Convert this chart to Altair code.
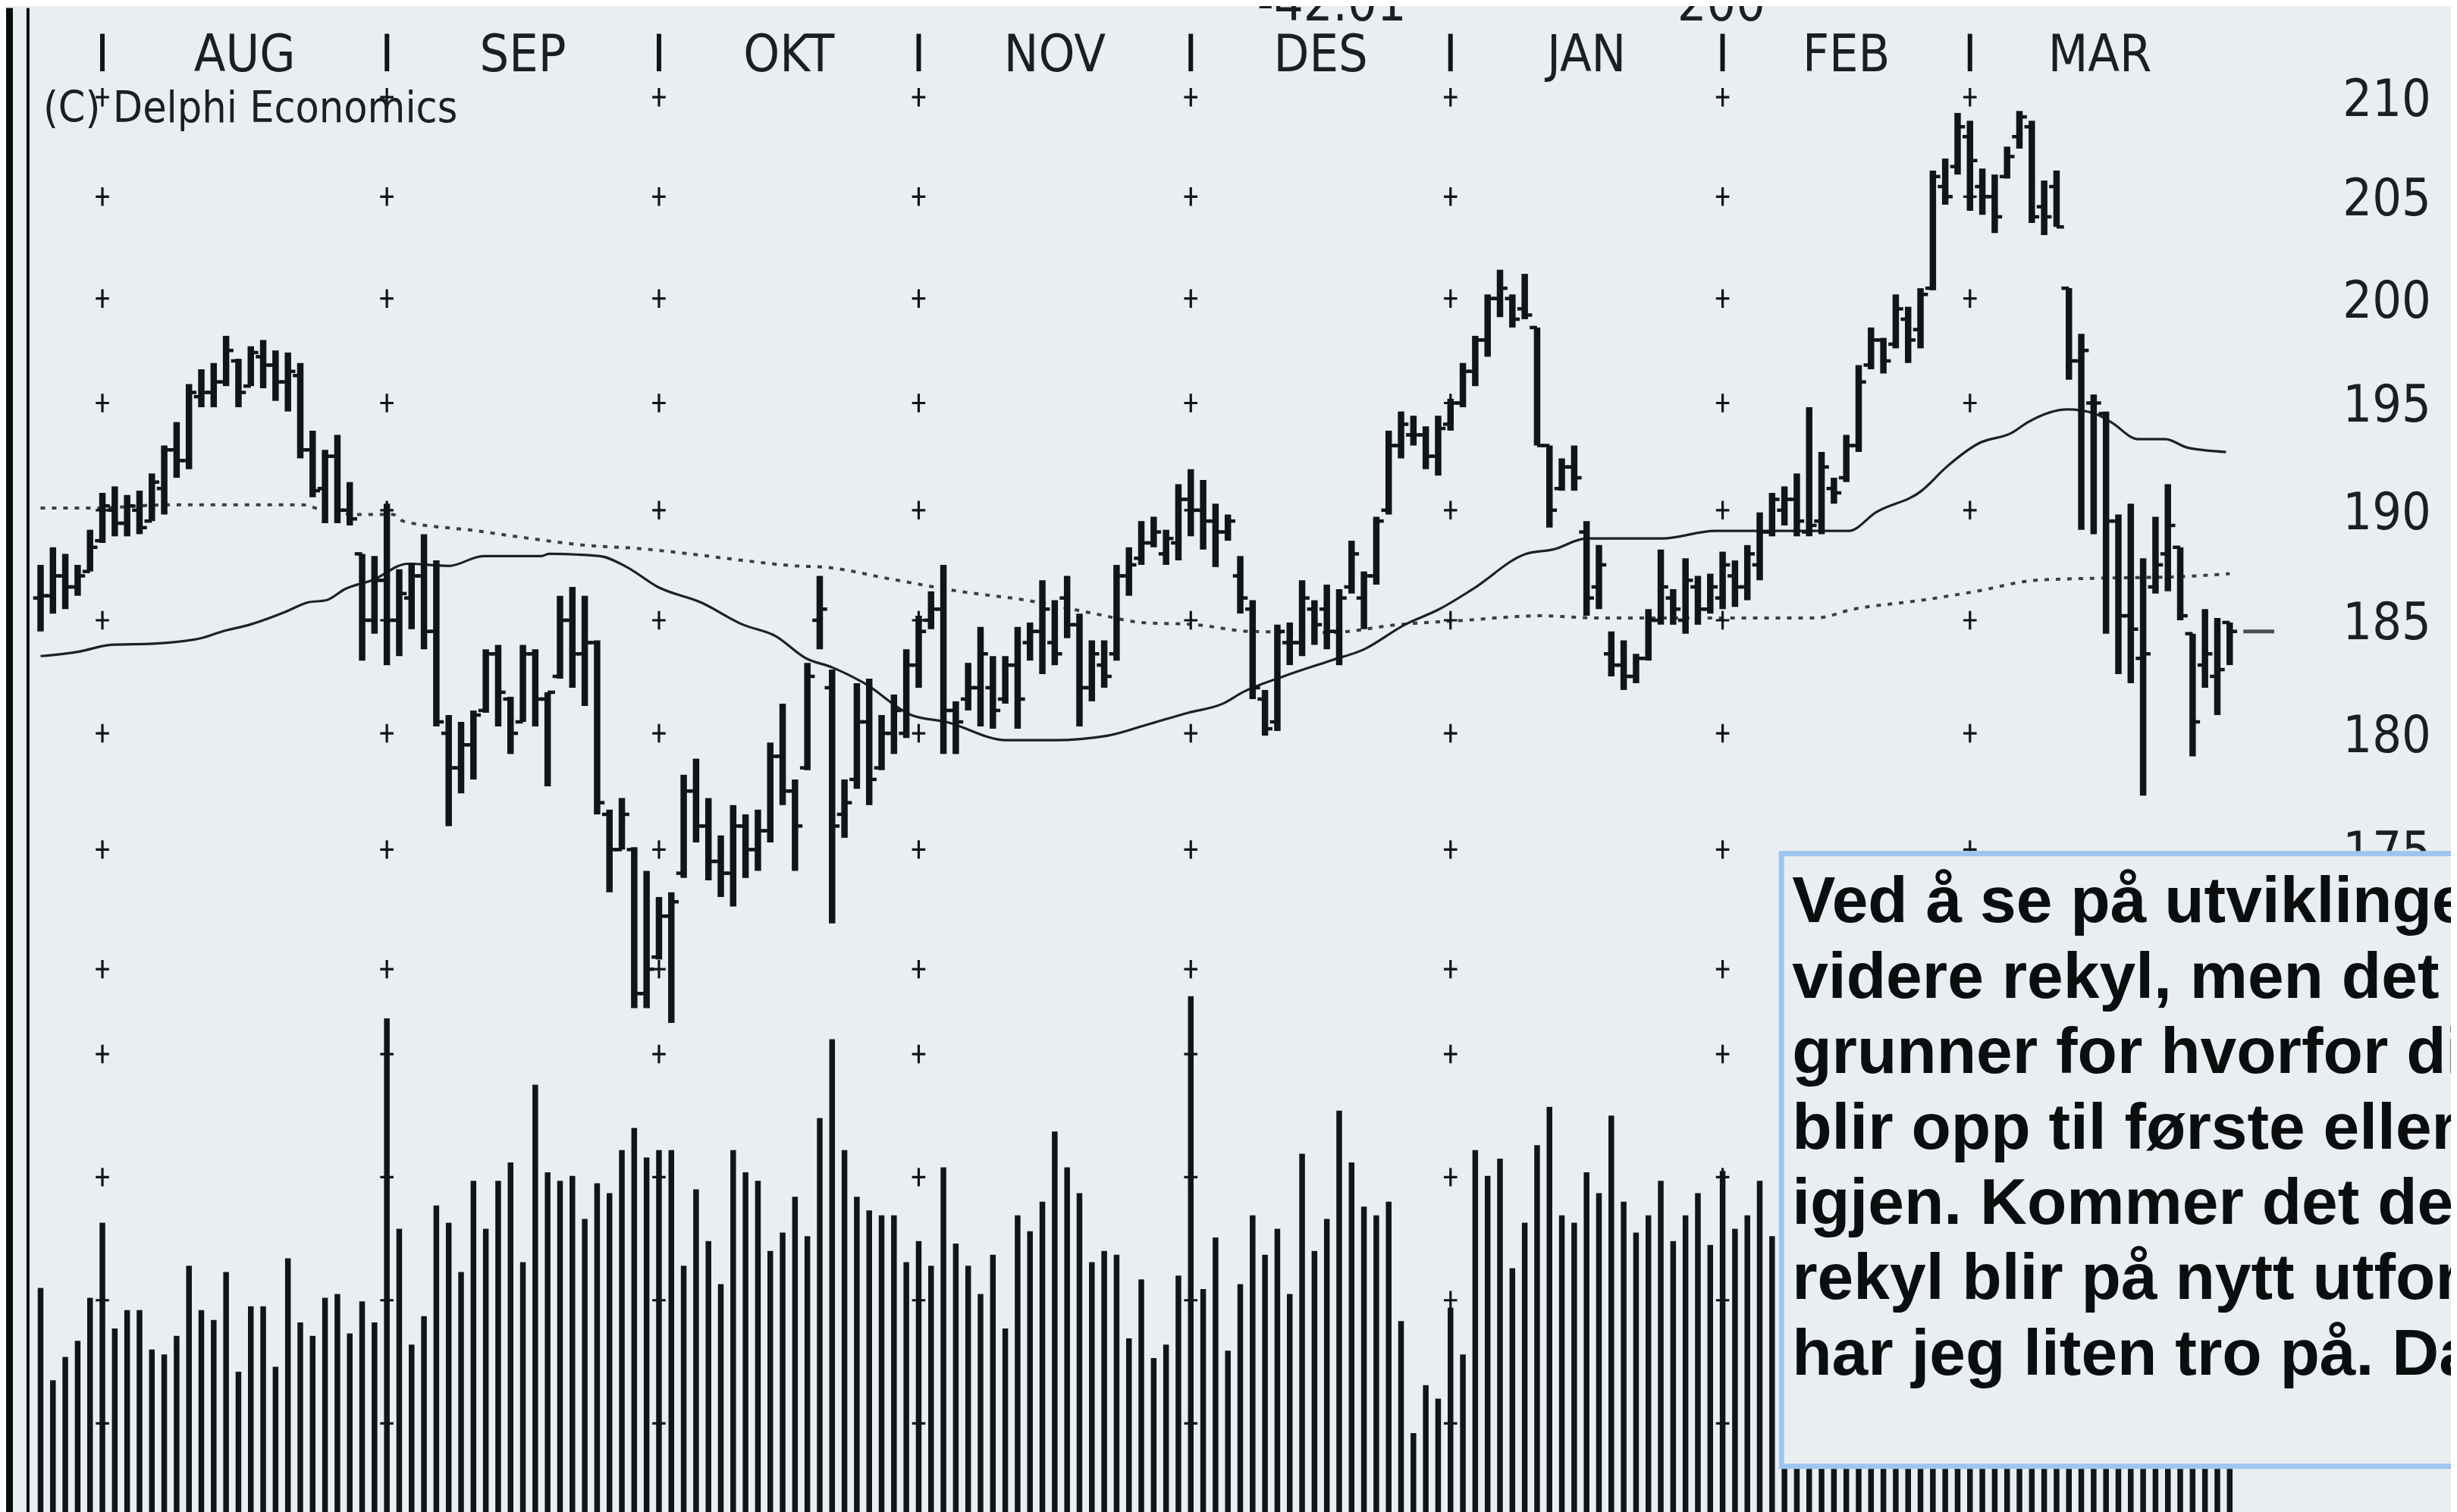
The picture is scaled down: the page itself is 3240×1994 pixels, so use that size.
import altair as alt
import pandas as pd

OFF = 8  # page margin of the html page
BG = "#e9eef1"
INK = "#111418"
LBL = "#1b1e22"
NARROW = "Liberation Sans Narrow, Arial Narrow, DejaVu Sans Condensed, Liberation Sans, sans-serif"
BOLD = "Liberation Sans, Arial, Helvetica, sans-serif"

# ---------------- data ----------------
high = [187.5,188.3,188.0,187.5,189.1,190.8,191.1,190.7,190.9,191.7,
193.0,194.1,195.9,196.6,196.9,198.2,197.1,197.7,198.0,197.5,
197.4,196.9,193.7,192.8,193.5,191.3,188.0,187.9,190.3,187.3,
187.6,188.9,187.7,180.8,180.5,181.0,183.7,183.9,181.6,183.9,
183.7,181.8,186.1,186.5,186.1,184.1,176.7,177.2,175.1,174.1,
173.0,173.2,178.2,178.9,177.2,175.6,176.9,176.5,176.7,179.6,
181.3,178.0,183.1,187.0,182.8,178.0,182.2,182.4,180.8,181.7,
183.7,185.2,186.3,187.5,181.4,183.1,184.7,183.4,183.4,184.7,
184.9,186.8,185.9,187.0,185.3,184.1,184.1,187.5,188.3,189.5,
189.7,189.1,191.2,191.9,191.4,190.3,189.8,187.9,185.9,181.9,
184.8,184.9,186.8,185.9,186.6,186.4,188.6,187.2,189.7,193.7,
194.6,194.4,193.9,194.4,195.2,196.9,198.2,200.2,201.4,200.2,
201.2,198.6,193.0,192.4,193.0,189.5,188.4,184.5,184.1,183.5,
185.5,188.2,186.4,187.8,187.0,187.1,188.1,187.7,188.4,189.9,
190.8,191.1,191.7,194.8,192.7,191.5,193.5,196.8,198.6,198.1,
200.2,199.6,200.5,206.3,206.9,209.2,208.8,206.4,206.1,207.5,
209.3,208.8,205.8,206.3,200.5,198.3,195.4,194.6,189.8,190.3,
187.8,189.7,191.2,188.3,184.4,185.5,185.1,184.9]

low = [184.5,185.3,185.5,186.1,187.2,188.5,188.8,188.8,188.9,189.5,
189.8,191.5,191.9,194.8,194.8,195.8,194.8,195.8,195.7,195.1,
194.6,192.4,190.6,189.4,189.4,189.3,183.2,184.4,183.0,183.4,
184.6,183.7,180.3,176.0,177.4,178.0,180.9,180.3,179.1,180.5,
180.3,177.7,182.4,182.0,181.2,176.5,173.2,175.0,168.4,168.4,
170.4,167.8,173.8,175.3,173.7,173.0,172.6,173.8,174.1,175.3,
176.9,174.1,178.4,183.7,171.9,175.5,177.6,176.9,178.4,179.1,
179.8,182.0,184.6,179.1,179.1,181.0,180.3,180.2,181.3,180.2,
183.2,182.6,183.0,184.2,180.3,181.4,182.0,183.2,186.1,187.5,
188.3,187.5,187.7,188.8,188.2,187.4,188.6,185.3,181.5,179.9,
180.1,183.0,183.4,183.9,183.7,183.0,186.2,184.6,186.6,189.8,
192.4,193.0,191.9,191.6,193.7,194.8,195.8,197.2,199.1,198.6,
199.0,193.0,189.2,190.9,190.9,185.2,185.5,182.5,181.9,182.2,
183.2,184.8,184.8,184.4,184.8,185.3,185.5,185.6,185.9,186.8,
188.8,189.3,188.8,188.8,188.9,190.3,191.3,192.7,196.6,196.4,
197.6,196.9,197.6,200.4,204.6,206.1,204.3,204.1,203.2,205.9,
207.4,203.7,203.1,203.5,196.1,189.1,188.9,184.4,182.6,182.2,
177.3,186.2,186.3,185.0,179.0,182.0,180.8,183.0]

opn = [186.0,186.1,187.0,186.5,187.2,188.6,190.0,189.4,190.0,189.5,
191.0,192.8,192.3,195.3,195.5,196.0,197.0,195.8,197.2,196.8,
196.0,196.3,192.8,191.0,192.5,190.0,188.0,185.0,186.8,185.0,
186.0,187.0,184.5,180.0,178.5,179.5,181.0,183.5,181.5,180.5,
183.5,181.5,182.5,185.0,183.5,184.0,176.5,175.0,175.0,169.0,
170.5,172.2,174.0,177.5,176.0,174.5,174.0,176.0,175.0,175.8,
179.0,177.5,178.5,185.0,182.0,176.5,178.0,180.5,178.5,180.0,
180.0,183.0,185.0,185.5,181.0,181.5,182.0,182.0,181.5,183.0,
184.0,184.5,184.0,186.0,184.8,182.0,183.0,183.5,187.0,187.8,
188.5,188.0,188.5,190.5,190.0,189.5,189.0,187.0,185.5,181.5,
180.5,184.0,184.0,185.5,185.5,184.5,186.5,186.0,187.0,190.0,
193.0,193.5,193.5,192.5,194.0,195.0,196.5,198.0,200.0,200.0,
199.5,198.6,193.0,191.0,192.0,189.0,186.5,183.5,183.0,182.5,
183.3,185.0,186.0,185.0,186.5,185.5,186.0,187.0,186.5,187.5,
189.0,190.0,190.5,189.0,189.5,191.0,191.5,193.0,196.8,198.0,
197.8,199.0,198.5,200.5,205.5,206.5,208.0,205.5,205.0,206.0,
208.0,208.5,204.5,205.5,200.5,197.0,195.0,194.5,189.5,185.2,
183.3,186.5,188.0,188.3,184.4,183.0,182.5,184.9]

close = [186.1,187.0,186.5,187.0,188.3,190.2,189.4,190.2,189.2,191.3,
192.8,192.3,195.5,195.5,196.0,197.5,195.5,197.4,196.8,196.0,
196.5,192.8,190.9,192.5,190.0,189.6,185.0,186.8,185.0,186.2,
187.0,184.5,180.5,178.5,179.5,180.8,183.5,181.8,180.0,183.5,
181.5,181.8,185.0,183.5,184.0,177.0,175.0,176.5,169.0,170.0,
172.2,172.8,177.5,176.0,174.5,174.0,176.0,175.0,175.8,179.0,
177.5,176.0,182.5,185.5,176.0,177.0,180.5,178.0,180.0,181.0,
183.0,184.5,185.5,181.0,180.5,182.0,183.5,181.0,183.0,181.5,
184.5,185.5,183.5,184.8,182.0,183.5,182.5,187.0,187.5,188.5,
189.0,188.7,190.5,190.0,189.5,189.0,189.5,186.0,182.0,180.2,
184.5,184.0,186.0,184.8,184.5,186.0,188.0,187.0,189.5,193.0,
194.0,193.5,192.5,193.8,195.0,196.5,198.0,200.0,200.5,199.0,
199.2,193.0,190.0,192.0,191.5,186.0,187.5,183.0,182.5,183.3,
185.0,186.5,185.5,186.8,185.5,186.5,187.5,186.5,188.0,189.0,
190.5,190.5,189.5,189.3,192.0,190.8,193.0,196.0,198.0,197.0,
199.5,198.0,200.2,206.0,205.0,208.5,206.8,205.0,204.0,207.0,
209.0,204.0,204.0,203.5,197.0,197.5,195.0,189.5,185.2,184.6,
183.5,187.5,189.3,185.2,180.5,183.5,182.8,184.5]

# volume (millions)
volume = [2.10,1.35,1.54,1.67,2.02,2.63,1.77,1.92,1.92,1.60,
1.56,1.71,2.28,1.92,1.84,2.23,1.42,1.95,1.95,1.46,
2.34,1.82,1.71,2.02,2.05,1.73,1.99,1.82,4.29,2.58,
1.64,1.87,2.77,2.63,2.23,2.97,2.58,2.97,3.12,2.31,
3.75,3.04,2.97,3.01,2.66,2.95,2.87,3.22,3.40,3.16,
3.22,3.22,2.28,2.90,2.48,2.13,3.22,3.04,2.97,2.40,
2.55,2.84,2.52,3.48,4.12,3.22,2.84,2.73,2.69,2.69,
2.31,2.48,2.28,3.08,2.46,2.28,2.05,2.37,1.77,2.69,
2.56,2.80,3.37,3.08,2.87,2.31,2.40,2.37,1.69,2.17,
1.53,1.64,2.20,4.47,2.09,2.51,1.59,2.13,2.69,2.37,
2.58,2.05,3.19,2.40,2.66,3.54,3.12,2.76,2.69,2.80,
1.83,0.92,1.31,1.20,1.94,1.56,3.22,3.01,3.15,2.26,
2.63,3.26,3.57,2.69,2.63,3.04,2.87,3.50,2.80,2.55,
2.69,2.97,2.48,2.69,2.87,2.45,3.05,2.58,2.69,2.97,2.52,
2.9,3.1,2.7,3.4,3.0,2.6,2.8,3.2,3.5,3.0,
2.9,2.7,3.6,3.9,3.3,3.1,2.8,3.0,3.4,2.9,
2.7,3.2,3.8,4.1,3.5,3.6,3.9,3.4,3.7,3.2,
3.0,3.3,2.9,2.8,3.1,2.6,2.4]

# moving averages read as points (bar index, price)
ma_fast_idx = [0,3.1,5.7,9.1,13.0,14.7,16.9,19.9,21.6,23.1,24.6,26.8,29.7,33.0,35.8,40.5,41.1,45.2,
               47.4,49.9,53.4,56.8,59.4,61.9,64.0,66.6,70.4,73.2,78.1,81.9,86.3,89.6,92.8,95.6,97.2,
               100.5,104.3,107.0,110.3,113.1,115.8,120.1,122.3,125.0,131.1,135.4,146.2,148.4,152.1,
               154.1,156.7,159.4,160.7,163.9,166.1,167.4,169.6,171.8,173.6,176.7]
ma_fast_val = [183.4,183.6,183.9,183.95,184.2,184.5,184.8,185.4,185.8,185.9,186.4,186.8,187.55,187.45,
               187.9,187.9,188.0,187.9,187.4,186.5,185.8,184.8,184.3,183.3,182.9,182.2,180.8,180.5,
               179.7,179.7,179.9,180.4,180.9,181.3,181.8,182.5,183.2,183.7,184.8,185.5,186.4,188.0,
               188.2,188.7,188.7,189.05,189.05,189.9,190.9,192.0,193.1,193.6,194.1,194.7,194.5,194.1,
               193.3,193.3,192.9,192.7]
ma_slow_idx = [0,4.4,10.4,21.2,22.5,25.5,28.5,29.3,35.3,39.6,43.9,48.2,52.5,56.8,61.1,63.3,68.8,74.3,
               79.7,85.2,89.0,93.4,97.8,104.3,109.7,115.2,121.2,126.1,143.5,146.6,152.1,156.5,161.3,
               166.8,172.3,177.0]
ma_slow_val = [190.1,190.1,190.25,190.25,190.05,189.8,189.8,189.5,189.05,188.7,188.4,188.25,188.0,
               187.7,187.45,187.4,186.85,186.3,185.9,185.3,184.9,184.8,184.5,184.45,184.8,185.0,185.2,
               185.1,185.1,185.5,185.9,186.3,186.8,186.9,186.95,187.1]

month_names = ["AUG", "SEP", "OKT", "NOV", "DES", "JAN", "FEB", "MAR"]
month_starts = [5, 28, 50, 71, 93, 114, 136, 156]
last_index = 177

price_grid = [210, 205, 200, 195, 190, 185, 180, 175, 170]
price_labels = [210, 205, 200, 195, 190, 185, 180, 175]
volume_grid = [1, 2, 3, 4]

top_texts = ["-42.01", "200"]
top_text_idx = [104.4, 135.9]

credit = "(C) Delphi Economics"

box_lines = [
    "Ved å se på utviklingen",
    "videre rekyl, men det er",
    "grunner for hvorfor disse",
    "blir opp til første eller andre",
    "igjen. Kommer det derimot",
    "rekyl blir på nytt utfordret",
    "har jeg liten tro på. Da",
]

# ---------------- scales (pixel layout of the reference) ----------------
X0, STEP = 53.6 - OFF, 16.35
xs = alt.Scale(domain=[0, last_index], range=[X0, X0 + STEP * last_index], zero=False, nice=False)
ps = alt.Scale(type="log", domain=[180, 210], range=[967 - OFF, 126 - OFF], nice=False, zero=False)
vs = alt.Scale(domain=[0, 4], range=[2042 - OFF, 1391 - OFF], nice=False, zero=False)

n = len(high)
bars = pd.DataFrame({"i": list(range(n)), "o": opn, "h": high, "l": low, "c": close, "v": volume})

X = lambda f: alt.X(f, scale=xs, axis=None)

hl = alt.Chart(bars).mark_rule(strokeWidth=8.5, color=INK, strokeCap="butt").encode(
    x=X("i:Q"), y=alt.Y("l:Q", scale=ps, axis=None), y2="h:Q")
op = alt.Chart(bars).transform_calculate(a="datum.i - 0.6").mark_rule(strokeWidth=4.5, color=INK).encode(
    x=X("a:Q"), x2="i:Q", y=alt.Y("o:Q", scale=ps, axis=None))
cl = alt.Chart(bars).transform_calculate(b="datum.i + 0.6").mark_rule(strokeWidth=4.5, color=INK).encode(
    x=X("i:Q"), x2="b:Q", y=alt.Y("c:Q", scale=ps, axis=None))
vol = alt.Chart(bars).mark_rule(strokeWidth=7.5, color=INK, strokeCap="butt").encode(
    x=X("i:Q"), y=alt.Y("v:Q", scale=vs, axis=None), y2=alt.datum(0))

fast = alt.Chart(pd.DataFrame({"i": ma_fast_idx, "p": ma_fast_val})).mark_line(
    color="#1d2124", strokeWidth=3.2, interpolate="monotone").encode(x=X("i:Q"), y=alt.Y("p:Q", scale=ps, axis=None))
slow = alt.Chart(pd.DataFrame({"i": ma_slow_idx, "p": ma_slow_val})).mark_line(
    color="#3a3f44", strokeWidth=4, strokeDash=[6, 9], interpolate="monotone").encode(
    x=X("i:Q"), y=alt.Y("p:Q", scale=ps, axis=None))

last_dash = alt.Chart(pd.DataFrame({"a": [178.1], "b": [180.6], "p": [close[-1]]})).mark_rule(
    strokeWidth=5, color="#4a4f54").encode(x=X("a:Q"), x2="b:Q", y=alt.Y("p:Q", scale=ps, axis=None))

PLUS = "M-0.72,0H0.72M0,-1V1"
pg = pd.DataFrame([{"i": m, "p": p} for m in month_starts for p in price_grid])
vg = pd.DataFrame([{"i": m, "v": v} for m in month_starts for v in volume_grid])
plus_p = alt.Chart(pg).mark_point(shape=PLUS, size=600, filled=False, strokeWidth=3.2, color=INK, opacity=1).encode(
    x=X("i:Q"), y=alt.Y("p:Q", scale=ps, axis=None))
plus_v = alt.Chart(vg).mark_point(shape=PLUS, size=600, filled=False, strokeWidth=3.2, color=INK, opacity=1).encode(
    x=X("i:Q"), y=alt.Y("v:Q", scale=vs, axis=None))

ends = month_starts[1:] + [last_index]
months = pd.DataFrame({"m": month_names, "i": [(a + b) / 2 for a, b in zip(month_starts, ends)]})
mlab = alt.Chart(months).mark_text(font=NARROW, fontSize=68, color=LBL, baseline="alphabetic", align="center").encode(
    x=X("i:Q"), y=alt.value(91.5 - OFF), text="m:N")
seps = alt.Chart(pd.DataFrame({"i": month_starts, "t": ["I"] * len(month_starts)})).mark_text(
    font=NARROW, fontSize=68, color=INK, baseline="alphabetic", align="center").encode(
    x=X("i:Q"), y=alt.value(91.5 - OFF), text="t:N")

ylab = alt.Chart(pd.DataFrame({"p": price_labels})).mark_text(
    font=NARROW, fontSize=68, color=LBL, baseline="alphabetic", align="left", dy=25).encode(
    x=alt.value(3097 - OFF), y=alt.Y("p:Q", scale=ps, axis=None), text=alt.Text("p:Q", format="d"))

toplab = alt.Chart(pd.DataFrame({"t": top_texts, "i": top_text_idx})).mark_text(
    font=NARROW, fontSize=68, color=LBL, baseline="alphabetic", align="center").encode(
    x=X("i:Q"), y=alt.value(24.5 - OFF), text="t:N")

cred = alt.Chart(pd.DataFrame({"t": [credit]})).mark_text(
    font=NARROW, fontSize=57, color=LBL, baseline="alphabetic", align="left").encode(
    x=alt.value(57 - OFF), y=alt.value(158.5 - OFF), text="t:N")

frame_dark = alt.Chart(pd.DataFrame({"k": [0]})).mark_rect(color="#0b0e10").encode(
    x=alt.value(0), x2=alt.value(17 - OFF), y=alt.value(0), y2=alt.value(2000))
frame_line = alt.Chart(pd.DataFrame({"k": [0]})).mark_rule(color="#0b0e10", strokeWidth=4).encode(
    x=alt.value(37 - OFF), y=alt.value(0), y2=alt.value(2000))

box = alt.Chart(pd.DataFrame({"k": [0]})).mark_rect(fill=BG, stroke="#9cc6ef", strokeWidth=7).encode(
    x=alt.value(2355 - OFF), x2=alt.value(3400), y=alt.value(1126 - OFF), y2=alt.value(1936 - OFF))
btxt = alt.Chart(pd.DataFrame({"r": list(range(len(box_lines))), "t": box_lines})).mark_text(
    font=BOLD, fontWeight="bold", fontSize=86, color="#0b0d0f", baseline="alphabetic", align="left").encode(
    x=alt.value(2369 - OFF),
    y=alt.Y("r:Q", scale=alt.Scale(domain=[0, 6], range=[1217 - OFF, 1217 - OFF + 6 * 99.6], nice=False, zero=False), axis=None),
    text="t:N")

chart = alt.layer(
    slow, fast, vol, hl, op, cl, last_dash, plus_p, plus_v,
    mlab, seps, ylab, toplab, cred, frame_dark, frame_line, box, btxt
).resolve_scale(y="independent").properties(
    width=3240 - OFF, height=1994 - OFF, background=BG, padding=0,
    autosize=alt.AutoSizeParams(type="none")
).configure_view(stroke=None)

chart.save("out.html", embed_options={"renderer": "svg", "actions": False})
